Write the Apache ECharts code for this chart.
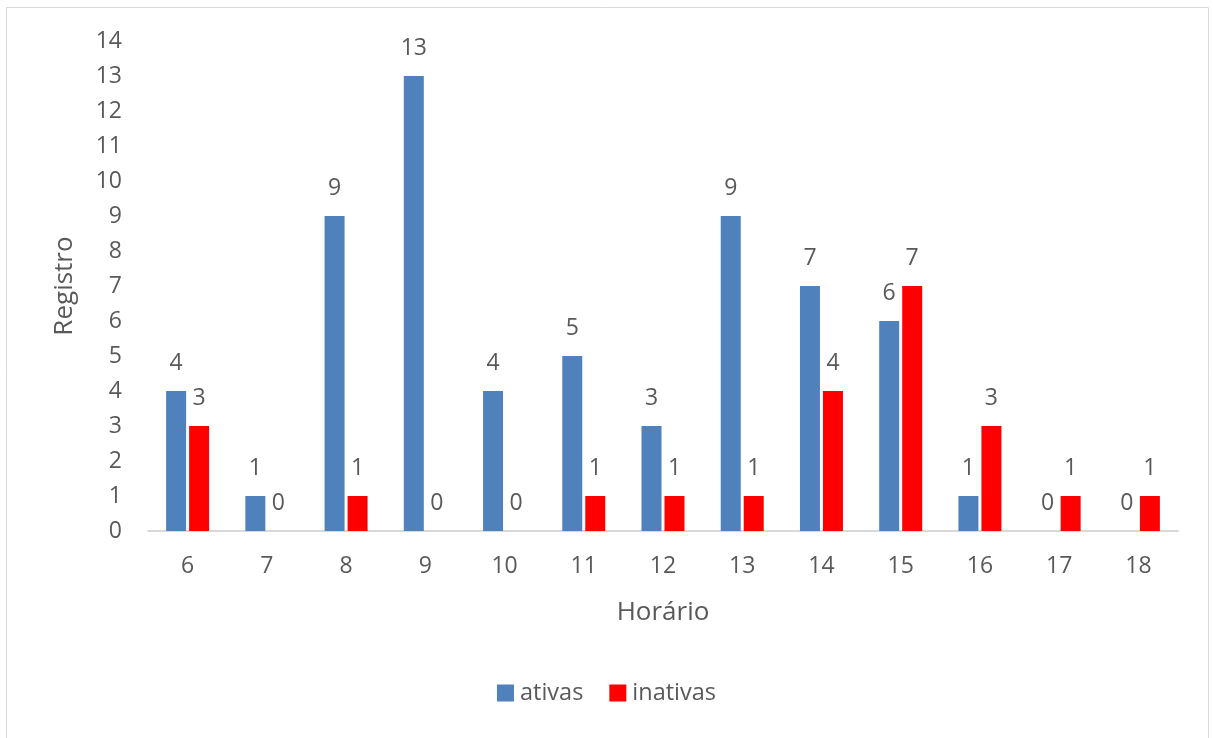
<!DOCTYPE html>
<html>
<head>
<meta charset="utf-8">
<script src="https://cdn.jsdelivr.net/npm/echarts@6/dist/echarts.min.js"></script>
<style>
  html, body { margin: 0; padding: 0; background: #fff; }
  #chart { width: 1213px; height: 738px; }
</style>
</head>
<body>
<div id="chart"></div>
<script>
// Registros por horário
const horarios = ['6', '7', '8', '9', '10', '11', '12', '13', '14', '15', '16', '17', '18'];
const ativas   = [4, 1, 9, 13, 4, 5, 3, 9, 7, 6, 1, 0, 0];
const inativas = [3, 0, 1, 0, 0, 1, 1, 1, 4, 7, 3, 1, 1];

const textColor = '#595959';
const fontFamily = '"Open Sans", "Noto Sans", sans-serif';

const labelStyle = {
  show: true,
  position: 'top',
  distance: 16,
  color: textColor,
  fontSize: 23,
  fontFamily: fontFamily
};

const chart = echarts.init(document.getElementById('chart'), null, { renderer: 'canvas' });

chart.setOption({
  animation: false,
  backgroundColor: '#fff',
  textStyle: { fontFamily: fontFamily },
  graphic: [{
    type: 'rect',
    shape: { x: 6.5, y: 7.5, width: 1202, height: 740 },
    style: { fill: 'none', stroke: '#D9D9D9', lineWidth: 1 },
    silent: true
  }],
  grid: { left: 148, right: 35, top: 41, bottom: 207, containLabel: false },
  legend: {
    bottom: 28,
    left: 'center',
    itemWidth: 17,
    itemHeight: 17,
    itemGap: 26,
    icon: 'rect',
    textStyle: { color: textColor, fontSize: 23.5, fontFamily: fontFamily, padding: [0, 0, 0, 1] },
    data: ['ativas', 'inativas']
  },
  xAxis: {
    type: 'category',
    data: horarios,
    name: 'Horário',
    nameLocation: 'middle',
    nameGap: 69,
    nameTextStyle: { color: textColor, fontSize: 26, fontFamily: fontFamily },
    axisLine: { lineStyle: { color: '#D9D9D9', width: 2 } },
    axisTick: { show: false },
    axisLabel: { color: textColor, fontSize: 23, margin: 24, fontFamily: fontFamily }
  },
  yAxis: {
    type: 'value',
    min: 0,
    max: 14,
    interval: 1,
    name: 'Registro',
    nameLocation: 'middle',
    nameGap: 70,
    nameRotate: 90,
    nameTextStyle: { color: textColor, fontSize: 26, fontFamily: fontFamily },
    axisLine: { show: false },
    axisTick: { show: false },
    splitLine: { show: false },
    axisLabel: { color: textColor, fontSize: 23, margin: 26, fontFamily: fontFamily }
  },
  series: [
    {
      name: 'ativas',
      type: 'bar',
      data: ativas,
      barWidth: 20,
      barGap: '15%',
      itemStyle: { color: '#4F81BD' },
      label: labelStyle
    },
    {
      name: 'inativas',
      type: 'bar',
      data: inativas,
      barWidth: 20,
      itemStyle: { color: '#FF0000' },
      label: labelStyle
    }
  ]
});
</script>
</body>
</html>
